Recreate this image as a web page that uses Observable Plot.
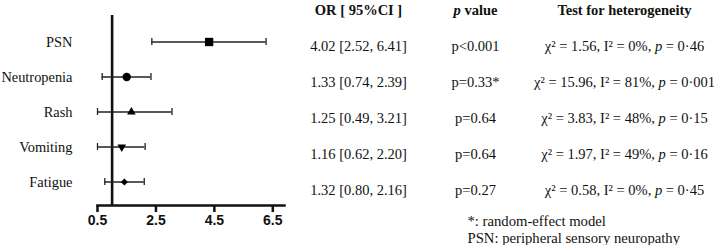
<!DOCTYPE html>
<html>
<head>
<meta charset="utf-8">
<script src="https://cdn.jsdelivr.net/npm/d3@7"></script>
<script src="https://cdn.jsdelivr.net/npm/@observablehq/plot@0.6"></script>
<style>
  html, body { margin: 0; padding: 0; background: #fff; }
  #wrap { position: relative; width: 714px; height: 245px; overflow: hidden; }
  #wrap > svg { position: absolute; top: 0; }
</style>
</head>
<body>
<div id="wrap"></div>
<script>
// ---- data ----
const outcomes = ["PSN", "Neutropenia", "Rash", "Vomiting", "Fatigue"];
// values as drawn in the forest plot
const orDrawn = [4.32, 1.50, 1.66, 1.33, 1.42];
const ciLowDrawn = [2.36, 0.66, 0.50, 0.50, 0.75];
const ciHighDrawn = [6.27, 2.33, 3.05, 2.13, 2.10];
const xTicks = [0.5, 2.5, 4.5, 6.5];
const referenceOR = 1;
// table texts
const orLabels = ["4.02 [2.52, 6.41]", "1.33 [0.74, 2.39]", "1.25 [0.49, 3.21]", "1.16 [0.62, 2.20]", "1.32 [0.80, 2.16]"];
const pLabels = ["p<0.001", "p=0.33*", "p=0.64", "p=0.64", "p=0.27"];
const hetLabels = [
  "χ² = 1.56, I² = 0%, p = 0·46",
  "χ² = 15.96, I² = 81%, p = 0·001",
  "χ² = 3.83, I² = 48%, p = 0·15",
  "χ² = 1.97, I² = 49%, p = 0·16",
  "χ² = 0.58, I² = 0%, p = 0·45"
];
const columns = ["or", "p", "het"];
const headerLabels = ["OR [ 95%CI ]", "p value", "Test for heterogeneity"];
const footnotes = ["*: random-effect model", "PSN: peripheral sensory neuropathy"];

// ---- build ----
const serif = "'Liberation Serif', 'Times New Roman', Times, serif";
const sans = "'Liberation Sans', Arial, Helvetica, sans-serif";
const ink = "#111";

const forest = outcomes.map((name, i) => ({name, or: orDrawn[i], lo: ciLowDrawn[i], hi: ciHighDrawn[i]}));

const triangleDown = {
  draw(context, size) {
    const y = -Math.sqrt(size / (3 * Math.sqrt(3)));
    context.moveTo(0, -2 * y);
    context.lineTo(-Math.sqrt(3) * y, y);
    context.lineTo(Math.sqrt(3) * y, y);
    context.closePath();
  }
};
const markerR = {PSN: 4.7, Neutropenia: 4.2, Rash: 3.2, Vomiting: 3.2, Fatigue: 3.15};

const left = Plot.plot({
  width: 300,
  height: 245,
  marginLeft: 97,
  marginRight: 16,
  marginTop: 15,
  marginBottom: 40,
  style: {fontFamily: serif, color: ink, background: "transparent", overflow: "visible"},
  x: {domain: [0.5, 6.9]},
  y: {type: "band", domain: outcomes, range: [37.1, 185.9], paddingInner: 0.797, paddingOuter: 0},
  r: {type: "identity"},
  symbol: {domain: outcomes, range: ["square", "circle", d3.symbolTriangle, triangleDown, "diamond2"]},
  marks: [
    Plot.axisY({tickSize: 0, tickPadding: 25, fontSize: 14.4, fontFamily: serif, fill: ink, label: null}),
    Plot.axisX({ticks: xTicks, tickFormat: d3.format(".1f"), tickSize: 7, tickPadding: 3, strokeWidth: 2.5, stroke: ink,
                fontSize: 14, fontWeight: "bold", fontFamily: sans, fill: ink, label: null}),
    Plot.frame({anchor: "bottom", strokeWidth: 2.5, stroke: ink}),
    Plot.ruleX([referenceOR], {strokeWidth: 2.6, stroke: ink}),
    Plot.ruleY(forest, {y: "name", x1: "lo", x2: "hi", stroke: "#222", strokeWidth: 1.3}),
    Plot.tickX(forest, {x: "lo", y: "name", stroke: "#222", strokeWidth: 1.3}),
    Plot.tickX(forest, {x: "hi", y: "name", stroke: "#222", strokeWidth: 1.3}),
    Plot.dot(forest, {x: "or", y: "name", symbol: "name", r: d => markerR[d.name], fill: "#000", stroke: "none"})
  ]
});

// render helper: italicize a standalone "p" followed by whitespace
function italicP(index, scales, values, dimensions, context, next) {
  const g = next(index, scales, values, dimensions, context);
  d3.select(g).selectAll("text").each(function () {
    const t = this.textContent;
    const parts = t.split(/(\bp(?=\s))/);
    if (parts.length < 2) return;
    this.textContent = "";
    for (const part of parts) {
      if (!part) continue;
      const ts = document.createElementNS("http://www.w3.org/2000/svg", "tspan");
      ts.textContent = part;
      if (part === "p") ts.setAttribute("font-style", "italic");
      this.appendChild(ts);
    }
  });
  return g;
}

const cells = outcomes.map((name, i) => ({name, or: orLabels[i], p: pLabels[i], het: hetLabels[i]}));
const headers = columns.map((col, i) => ({col, label: headerLabels[i]}));

const table = Plot.plot({
  width: 424,
  height: 245,
  margin: 0,
  style: {fontFamily: serif, color: ink, background: "transparent", overflow: "visible"},
  x: {type: "ordinal", domain: columns, range: [68, 185, 334], axis: null},
  y: {type: "point", domain: outcomes, range: [44.7, 191.7], padding: 0, axis: null},
  marks: [
    Plot.text(headers, {x: "col", text: "label", frameAnchor: "top", lineAnchor: "bottom", dy: 14.3,
                        fontSize: 14.5, fontWeight: "bold", fill: ink, render: italicP}),
    Plot.text(cells, {x: () => "or", y: "name", text: "or", fontSize: 14.5, fill: ink}),
    Plot.text(cells, {x: () => "p", y: "name", text: "p", fontSize: 14.5, fill: ink}),
    Plot.text(cells, {x: () => "het", y: "name", text: "het", fontSize: 14.5, fill: ink, render: italicP}),
    Plot.text([footnotes.join("\n")], {x: () => "p", text: d => d, frameAnchor: "bottom", lineAnchor: "bottom",
                        textAnchor: "start", dx: -8, dy: -3, lineHeight: 1.12, fontSize: 14.7, fill: ink})
  ]
});
table.style.left = "290px";
left.style.left = "0px";

const wrap = document.getElementById("wrap");
wrap.appendChild(left);
wrap.appendChild(table);
</script>
</body>
</html>
